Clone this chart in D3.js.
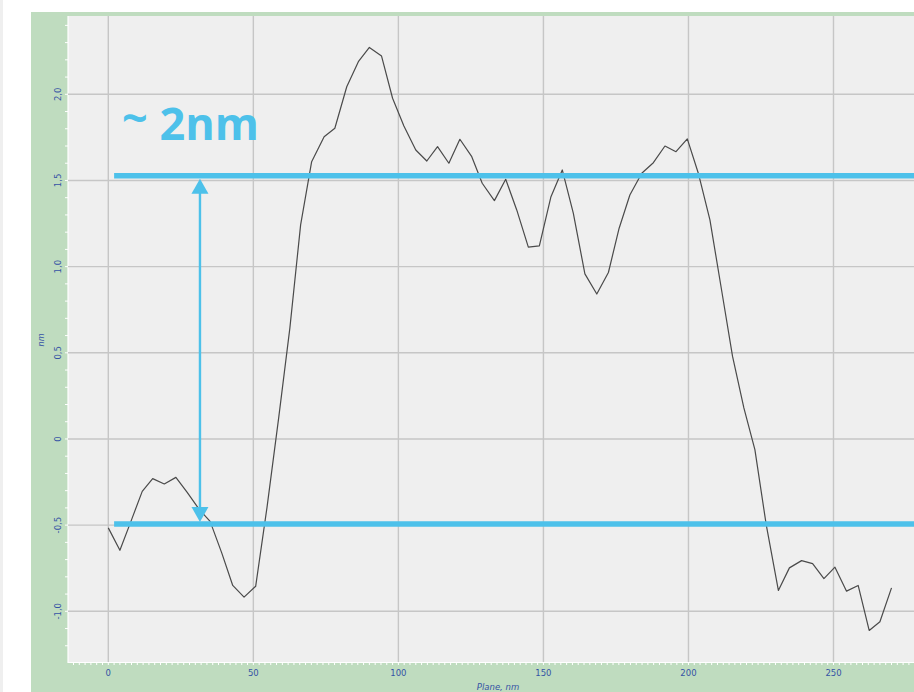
<!DOCTYPE html>
<html>
<head>
<meta charset="utf-8">
<script src="https://cdn.jsdelivr.net/npm/d3@7"></script>
<style>
  html, body { margin: 0; padding: 0; background: #ffffff; }
  svg { display: block; }
</style>
</head>
<body>
<svg id="chart" width="914" height="692"></svg>
<script>
// ---- data ----
const planeNm = [0, 4.0, 7.8, 11.7, 15.3, 19.3, 23.3, 27.2, 31.4, 35.1,
  39.1, 42.9, 46.8, 50.8, 54.7, 58.7, 62.6, 66.3, 70.1, 74.4,
  78.1, 82.2, 86.2, 90.0, 94.2, 98.0, 101.9, 106.0, 109.8, 113.5,
  117.4, 121.2, 125.3, 128.9, 133.1, 137.0, 140.8, 144.8, 148.6, 152.6,
  156.5, 160.3, 164.3, 168.4, 172.4, 176.1, 179.8, 183.9, 187.9, 191.9,
  195.7, 199.6, 203.4, 207.4, 211.4, 215.2, 219.1, 222.9, 226.8, 231.0,
  234.8, 239.0, 242.8, 246.7, 250.5, 254.5, 258.5, 262.3, 266.0, 270.0];
const heightNm = [-0.516, -0.646, -0.478, -0.304, -0.230, -0.261, -0.223, -0.310, -0.410, -0.478,
  -0.661, -0.850, -0.918, -0.855, -0.398, 0.118, 0.645, 1.242, 1.609, 1.754,
  1.803, 2.044, 2.189, 2.272, 2.222, 1.977, 1.816, 1.677, 1.613, 1.696,
  1.600, 1.739, 1.638, 1.484, 1.383, 1.507, 1.329, 1.113, 1.121, 1.406,
  1.561, 1.310, 0.958, 0.841, 0.966, 1.223, 1.416, 1.542, 1.603, 1.700,
  1.667, 1.741, 1.542, 1.271, 0.866, 0.479, 0.180, -0.062, -0.497, -0.879,
  -0.748, -0.706, -0.723, -0.810, -0.744, -0.883, -0.850, -1.111, -1.061, -0.864];

const xTicks = [0, 50, 100, 150, 200, 250];
const xTickLabels = ["0", "50", "100", "150", "200", "250"];
const yTicks = [2.0, 1.5, 1.0, 0.5, 0, -0.5, -1.0];
const yTickLabels = ["2,0", "1,5", "1,0", "0,5", "0", "-0,5", "-1,0"];
const xTitle = "Plane, nm";
const yTitle = "nm";

// annotation values
const levels = [1.528, -0.493];       // the two blue reference levels
const levelStartX = 2.0;               // where the blue lines start (nm)
const arrowX = 31.6;                   // x position of the double arrow (nm)
const annotation = ["~", " 2nm"];

// ---- layout ----
const W = 914, H = 692;
const svg = d3.select("#chart");

const x = d3.scaleLinear().domain([0, 250]).range([108.3, 833.5]);
const y = d3.scaleLinear().domain([-1, 2]).range([611.3, 94.3]);

const plot = { left: 68, top: 16, right: W, bottom: 662 };

// page strips
svg.append("rect").attr("x", 0).attr("y", 0).attr("width", 3).attr("height", H).attr("fill", "#efefef");
// green frame
svg.append("rect").attr("x", 31).attr("y", 12).attr("width", W - 31).attr("height", H - 12).attr("fill", "#bfdcbf");
// plot area
svg.append("rect").attr("x", plot.left).attr("y", plot.top)
  .attr("width", plot.right - plot.left).attr("height", plot.bottom - plot.top)
  .attr("fill", "#efefef");

// white edge lines of plot area
svg.append("line").attr("x1", plot.left).attr("x2", plot.left).attr("y1", plot.top).attr("y2", plot.bottom + 1)
  .attr("stroke", "#ffffff").attr("stroke-width", 1.2);
svg.append("line").attr("x1", plot.left).attr("x2", plot.right).attr("y1", plot.bottom + 0.5).attr("y2", plot.bottom + 0.5)
  .attr("stroke", "#ffffff").attr("stroke-width", 1.2);

// minor ticks (white)
const yMinor = d3.range(-12, 25).map(i => i / 10).filter(v => y(v) > plot.top + 2 && y(v) < plot.bottom);
svg.append("g").selectAll("line").data(yMinor).join("line")
  .attr("x1", plot.left - 3).attr("x2", plot.left)
  .attr("y1", d => y(d)).attr("y2", d => y(d))
  .attr("stroke", "#ffffff").attr("stroke-width", 1);
const xMinor = d3.range(-12, 284, 2).filter(v => x(v) > plot.left + 1 && x(v) < W);
svg.append("g").selectAll("line").data(xMinor).join("line")
  .attr("x1", d => x(d)).attr("x2", d => x(d))
  .attr("y1", plot.bottom).attr("y2", plot.bottom + 3)
  .attr("stroke", "#ffffff").attr("stroke-width", 1);

// grid
const grid = svg.append("g");
grid.selectAll("line.gx").data(xTicks).join("line").attr("class", "gx")
  .attr("x1", d => x(d)).attr("x2", d => x(d)).attr("y1", plot.top).attr("y2", plot.bottom)
  .attr("stroke", "#c6c6c6").attr("stroke-width", 1.4);
grid.selectAll("line.gy").data(yTicks).join("line").attr("class", "gy")
  .attr("x1", plot.left).attr("x2", plot.right).attr("y1", d => y(d)).attr("y2", d => y(d))
  .attr("stroke", "#c6c6c6").attr("stroke-width", 1.4);

// tick labels
const labelColor = "#3553a5";
svg.append("g").selectAll("text").data(xTicks).join("text")
  .attr("x", d => x(d)).attr("y", 676)
  .attr("text-anchor", "middle")
  .attr("font-family", "DejaVu Sans, sans-serif").attr("font-size", 8.5)
  .attr("fill", labelColor)
  .text((d, i) => xTickLabels[i]);

svg.append("g").selectAll("text").data(yTicks).join("text")
  .attr("transform", d => `translate(61,${y(d)}) rotate(-90)`)
  .attr("text-anchor", "middle")
  .attr("font-family", "DejaVu Sans, sans-serif").attr("font-size", 8.5)
  .attr("fill", labelColor)
  .text((d, i) => yTickLabels[i]);

svg.append("text").attr("x", 498).attr("y", 690).attr("text-anchor", "middle")
  .attr("font-family", "DejaVu Sans, sans-serif").attr("font-size", 8.5)
  .attr("font-style", "italic").attr("fill", labelColor).text(xTitle);
svg.append("text").attr("transform", "translate(44,340) rotate(-90)").attr("text-anchor", "middle")
  .attr("font-family", "DejaVu Sans, sans-serif").attr("font-size", 8)
  .attr("font-style", "italic").attr("fill", labelColor).text(yTitle);

// profile line
const pts = planeNm.map((p, i) => [p, heightNm[i]]);
svg.append("path").datum(pts)
  .attr("d", d3.line().x(d => x(d[0])).y(d => y(d[1])))
  .attr("fill", "none").attr("stroke", "#4a4a4a").attr("stroke-width", 1.2)
  .attr("stroke-linejoin", "round");

// annotation
const blue = "#4dc1ea";
svg.append("g").selectAll("line").data(levels).join("line")
  .attr("x1", x(levelStartX)).attr("x2", W)
  .attr("y1", d => y(d)).attr("y2", d => y(d))
  .attr("stroke", blue).attr("stroke-width", 5.5);

const ax = x(arrowX);
const yTop = y(levels[0]) + 3, yBot = y(levels[1]) - 2;
const headH = 15, headW = 8.5;
svg.append("line").attr("x1", ax).attr("x2", ax).attr("y1", yTop + headH - 1).attr("y2", yBot - headH + 1)
  .attr("stroke", blue).attr("stroke-width", 2.4);
svg.append("path").attr("d", `M${ax},${yTop} L${ax - headW},${yTop + headH} L${ax + headW},${yTop + headH} Z`).attr("fill", blue);
svg.append("path").attr("d", `M${ax},${yBot} L${ax - headW},${yBot - headH} L${ax + headW},${yBot - headH} Z`).attr("fill", blue);

const t = svg.append("text").attr("x", 122).attr("y", 140)
  .attr("font-family", "Open Sans, sans-serif").attr("font-weight", 700)
  .attr("font-size", 45).attr("fill", blue);
t.append("tspan").attr("dy", -6).text(annotation[0]);
t.append("tspan").attr("dy", 6).text(annotation[1]);
</script>
</body>
</html>
